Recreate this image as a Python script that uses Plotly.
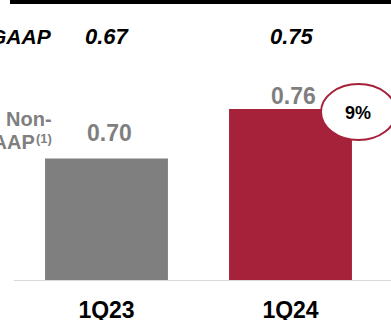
import plotly.graph_objects as go

categories = ["1Q23", "1Q24"]
non_gaap = [0.70, 0.76]
gaap = [0.67, 0.75]
growth_label = "9%"
bar_colors = ["#7f7f7f", "#a6213a"]

W, H = 391, 320
BASE = 0.5527
PLOT_H = 280
K = 825.0

def py(p):
    return 1 - p / PLOT_H

def px(p):
    return p / W

fig = go.Figure()
fig.add_trace(go.Bar(
    x=categories,
    y=[v - BASE for v in non_gaap],
    base=BASE,
    width=0.668,
    marker=dict(color=bar_colors, line=dict(width=0)),
    hoverinfo="skip",
))

FONT = "Liberation Sans, Arial, sans-serif"
ann = []
# GAAP row
ann.append(dict(text="<b><i>GAAP</i></b>", xref="paper", yref="paper", x=px(54), y=py(36),
                xanchor="right", yanchor="middle", showarrow=False,
                font=dict(family=FONT, size=21, color="#000000")))
for c, g in zip(categories, gaap):
    ann.append(dict(text=f"<b><i>{g:.2f}</i></b>", xref="x", yref="paper", x=c, y=py(36),
                    xanchor="center", yanchor="middle", xshift=1, showarrow=False,
                    font=dict(family=FONT, size=22, color="#000000")))
# Non-GAAP label
ann.append(dict(text="<b>Non-</b>", xref="paper", yref="paper", x=px(54), y=py(119),
                xanchor="right", yanchor="middle", showarrow=False,
                font=dict(family=FONT, size=20, color="#7f7f7f")))
ann.append(dict(text="<b>GAAP</b>", xref="paper", yref="paper", x=px(37), y=py(142),
                xanchor="right", yanchor="middle", showarrow=False,
                font=dict(family=FONT, size=20, color="#7f7f7f")))
ann.append(dict(text="<b>(1)</b>", xref="paper", yref="paper", x=px(34), y=py(138),
                xanchor="left", yanchor="middle", showarrow=False,
                font=dict(family=FONT, size=13, color="#7f7f7f")))
# value labels
shifts = [25, 13]
for c, v, s in zip(categories, non_gaap, shifts):
    ann.append(dict(text=f"<b>{v:.2f}</b>", xref="x", yref="y", x=c, y=v,
                    xanchor="center", yanchor="middle", yshift=s, xshift=3, showarrow=False,
                    font=dict(family=FONT, size=23, color="#7f7f7f")))
# growth bubble text
ann.append(dict(text=f"<b>{growth_label}</b>", xref="paper", yref="paper", x=px(358), y=py(113),
                xanchor="center", yanchor="middle", showarrow=False,
                font=dict(family=FONT, size=18, color="#000000")))

shapes = [
    dict(type="rect", xref="paper", yref="paper", x0=px(10), x1=1.02, y0=py(4), y1=1.05,
         fillcolor="#000000", line=dict(width=0), layer="above"),
    dict(type="circle", xref="paper", yref="paper", x0=px(321), x1=px(396), y0=py(140), y1=py(84),
         fillcolor="#ffffff", line=dict(color="#a6213a", width=2), layer="above"),
]

fig.update_layout(
    width=W, height=H,
    margin=dict(l=0, r=0, t=0, b=40, pad=0, autoexpand=False),
    paper_bgcolor="#ffffff", plot_bgcolor="#ffffff",
    showlegend=False,
    annotations=ann,
    shapes=shapes,
    xaxis=dict(domain=[px(14), 1], range=[-0.5027, 1.5462], type="category",
               automargin=False,
               showgrid=False, zeroline=False, showline=True, linecolor="#d9d9d9", linewidth=1,
               ticks="outside", ticklen=9, tickcolor="rgba(0,0,0,0)",
               tickfont=dict(family=FONT, size=23, color="#000000"),
               tickprefix="<b>", ticksuffix="</b>", fixedrange=True),
    yaxis=dict(range=[BASE, BASE + PLOT_H / K], showgrid=False, zeroline=False,
               automargin=False,
               showticklabels=False, showline=False, fixedrange=True),
)

fig.write_html("out.html", config={"displayModeBar": False})
